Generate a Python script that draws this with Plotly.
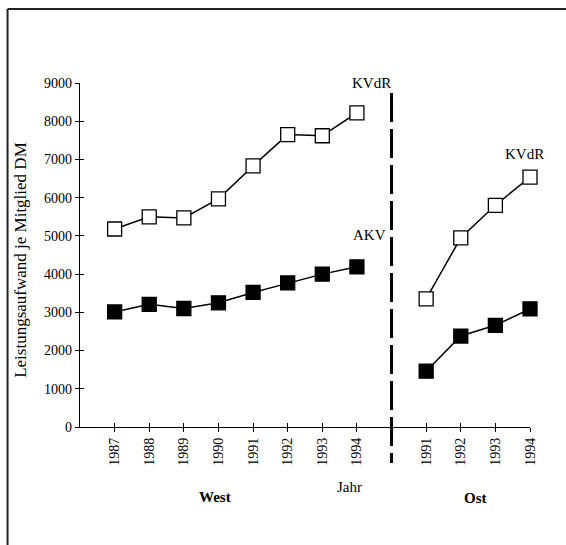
import plotly.graph_objects as go

# Leistungsaufwand je Mitglied (DM), West 1987-1994 and Ost 1991-1994
west_years = ["1987", "1988", "1989", "1990", "1991", "1992", "1993", "1994"]
west_kvdr = [5180, 5500, 5470, 5970, 6830, 7650, 7620, 8220]
west_akv = [3010, 3210, 3100, 3250, 3520, 3770, 4000, 4190]

ost_years = ["1991", "1992", "1993", "1994"]
ost_kvdr = [3350, 4950, 5800, 6540]
ost_akv = [1460, 2380, 2660, 3090]

y_ticks = [0, 1000, 2000, 3000, 4000, 5000, 6000, 7000, 8000, 9000]

FONT = "Liberation Serif, Times New Roman, serif"

# category positions: West at 0..7, separator at 8, Ost at 9..12
west_x = list(range(len(west_years)))
sep_x = len(west_years)
ost_x = [sep_x + 1 + i for i in range(len(ost_years))]
x_range = [-1, ost_x[-1]]
y_range = [0, 9000]

fig = go.Figure()


def series(x, y, filled):
    fig.add_trace(go.Scatter(
        x=x, y=y, mode="lines+markers",
        line=dict(color="black", width=1.5),
        marker=dict(symbol="square", size=14,
                    color="black" if filled else "white",
                    line=dict(color="black", width=1.3)),
        showlegend=False, cliponaxis=False,
    ))


series(west_x, west_kvdr, False)
series(west_x, west_akv, True)
series(ost_x, ost_kvdr, False)
series(ost_x, ost_akv, True)

tickvals = west_x + ost_x
ticktext = west_years + ost_years

axis_common = dict(showgrid=False, zeroline=False, showline=True,
                   linecolor="black", linewidth=1.2, tickcolor="black",
                   ticklen=4, tickwidth=1.2,
                   tickfont=dict(family=FONT, size=14, color="black"))

inner_ticks = dict(showticklabels=False, ticks="inside", showline=False,
                   showgrid=False, zeroline=False, ticklen=4, tickwidth=1.2,
                   tickcolor="black")

fig.update_layout(
    width=566, height=545,
    margin=dict(l=80, r=36, t=83, b=118),
    paper_bgcolor="white", plot_bgcolor="white",
    xaxis=dict(range=x_range, tickvals=tickvals, ticktext=ticktext,
               tickangle=-90, ticks="outside", **axis_common),
    yaxis=dict(range=y_range, tickvals=y_ticks, ticks="outside",
               **axis_common),
    # second pair of axes draws the inner half of the crossing tick marks
    xaxis2=dict(overlaying="x", side="bottom", anchor="y2",
                range=x_range, tickvals=tickvals, **inner_ticks),
    yaxis2=dict(overlaying="y", side="left", anchor="x2",
                range=y_range, tickvals=y_ticks, **inner_ticks),
)

fig.add_trace(go.Scatter(x=[0], y=[0], xaxis="x2", yaxis="y2",
                         mode="markers", marker=dict(opacity=0),
                         showlegend=False, hoverinfo="skip"))

# dashed divider between West and Ost
fig.add_shape(type="line", xref="x", yref="paper",
              x0=sep_x, x1=sep_x, y0=0.971, y1=-0.105,
              line=dict(color="black", width=3, dash="29px,7px"))

# outer frame: top and left edges
frame = dict(color="#222", width=2)
fig.add_shape(type="line", xref="paper", yref="paper",
              x0=-0.161, x1=1.5, y0=1.215, y1=1.215, line=frame)
fig.add_shape(type="line", xref="paper", yref="paper",
              x0=-0.161, x1=-0.161, y0=1.215, y1=-0.6, line=frame)

label_font = dict(family=FONT, size=15, color="black")


def label(text, xref, yref, x, y, **kw):
    return dict(text=text, xref=xref, yref=yref, x=x, y=y,
                xanchor="center", yanchor="middle", showarrow=False,
                font=label_font, **kw)


ann = [
    label("KVdR", "x", "y", west_x[-1] + 0.42, 9000),
    label("KVdR", "x", "y", ost_x[-1] - 0.15, 7150),
    label("AKV", "x", "y", west_x[-1] + 0.35, 5020),
    label("AKV", "x", "y", ost_x[-1] + 0.08, 3700),
    label("<b>West</b>", "paper", "paper", 0.299, -0.2035),
    label("Jahr", "paper", "paper", 0.5995, -0.174),
    label("<b>Ost</b>", "paper", "paper", 0.878, -0.206),
    dict(text="Leistungsaufwand je Mitglied DM", xref="paper", yref="paper",
         x=-0.134, y=0.485, xanchor="center", yanchor="middle",
         textangle=-90, showarrow=False,
         font=dict(family=FONT, size=17, color="black")),
]
fig.update_layout(annotations=ann)

fig.write_html(
    "out.html",
    post_script="document.documentElement.style.overflow='hidden';"
                "document.body.style.overflow='hidden';"
                "document.body.style.margin='0';",
)
